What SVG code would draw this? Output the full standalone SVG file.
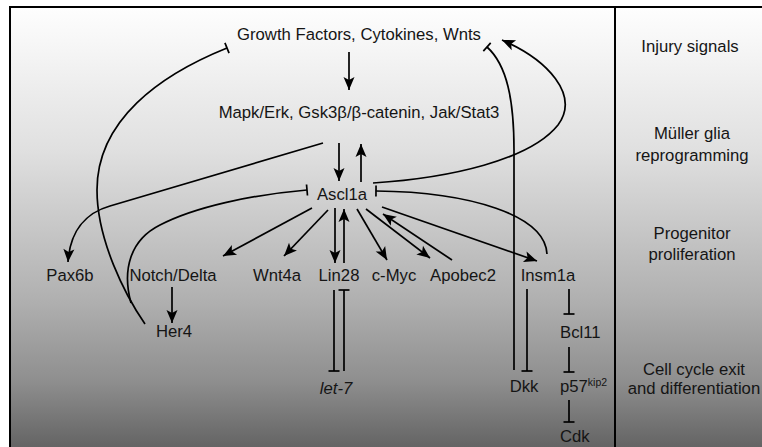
<svg xmlns="http://www.w3.org/2000/svg" width="762" height="447" viewBox="0 0 762 447">
<defs>
<linearGradient id="bg" gradientUnits="userSpaceOnUse" x1="0" y1="7" x2="0" y2="447">
<stop offset="0" stop-color="#fefefe"/>
<stop offset="0.325" stop-color="#e0e0e0"/>
<stop offset="0.666" stop-color="#b0b0b0"/>
<stop offset="0.848" stop-color="#8f8f8f"/>
<stop offset="1" stop-color="#646464"/>
</linearGradient>
<marker id="arr" markerUnits="userSpaceOnUse" markerWidth="16" markerHeight="14" viewBox="-14 -7 16 14" refX="0" refY="0" orient="auto">
<path d="M0,0 L-13,-5.5 L-10,0 L-13,5.5 Z" fill="#000"/>
</marker>
<marker id="inh" markerUnits="userSpaceOnUse" markerWidth="4" markerHeight="14" viewBox="-2 -7 4 14" refX="0" refY="0" orient="auto">
<path d="M0,-5.5 V5.5" stroke="#000" stroke-width="1.7"/>
</marker>
</defs>
<style>
.c{fill:none;stroke:#000;stroke-width:1.7}
.a{marker-end:url(#arr)}
.i{marker-end:url(#inh)}
.t{font-family:"Liberation Sans",Arial,sans-serif;font-size:16.7px;fill:#151515;text-anchor:middle}
.s{text-anchor:start}
.fr{fill:none;stroke:#000;stroke-width:2}
</style>
<rect x="0" y="0" width="762" height="447" fill="#fff"/>
<rect x="10" y="7" width="752" height="440" fill="url(#bg)"/>
<path class="fr" d="M10,447 V7 H762"/>
<path class="fr" d="M615,7 V447"/>

<g id="connectors">
<path class="c a" d="M349,52 L349,90"/>
<path class="c a" d="M339,143 L339,181"/>
<path class="c a" d="M361,182 L361,144"/>
<path class="c a" d="M323,143 L110,206 C85,213 70,232 68,262"/>
<path class="c a" d="M373,183 C450,178 530,160 558,125 C580,95 548,60 502,40"/>
<path class="c i" d="M145,324 C125,295 97,240 97,190 C97,120 160,75 227,48"/>
<path class="c i" d="M131,303 C122,270 130,240 160,225 C195,207 250,195 307,190"/>
<path class="c i" d="M514,370 L514,150 C514,100 507,65 487,47"/>
<path class="c i" d="M547,254 C545,215 470,192 376,191"/>
<path class="c a" d="M382,207 L537,261"/>
<path class="c a" d="M452,260 L383,214"/>
<path class="c a" d="M366,209 L430,258"/>
<path class="c a" d="M357,209 L387,260"/>
<path class="c a" d="M335,208 L335,263"/>
<path class="c a" d="M344,263 L344,209"/>
<path class="c a" d="M328,210 L284,256"/>
<path class="c a" d="M312,208 L223,256"/>
<path class="c a" d="M172,287 L172,323"/>
<path class="c i" d="M334,290 L334,371"/>
<path class="c i" d="M344,371 L344,290"/>
<path class="c i" d="M527,289 L527,371"/>
<path class="c i" d="M569,289 L569,314"/>
<path class="c i" d="M569,347 L569,372"/>
<path class="c i" d="M569,400 L569,422"/>
</g>

<g id="growth-factors"><text class="t" x="359" y="40">Growth Factors, Cytokines, Wnts</text></g>
<g id="mapk"><text class="t" x="359" y="118">Mapk/Erk, Gsk3β/β-catenin, Jak/Stat3</text></g>
<g id="ascl1a"><text class="t" x="342" y="200">Ascl1a</text></g>
<g id="pax6b"><text class="t" x="70" y="281">Pax6b</text></g>
<g id="notch-delta"><text class="t" x="173" y="281">Notch/Delta</text></g>
<g id="wnt4a"><text class="t" x="277" y="281">Wnt4a</text></g>
<g id="lin28"><text class="t" x="339" y="281">Lin28</text></g>
<g id="c-myc"><text class="t" x="394" y="281">c-Myc</text></g>
<g id="apobec2"><text class="t" x="463" y="281">Apobec2</text></g>
<g id="insm1a"><text class="t" x="548" y="281">Insm1a</text></g>
<g id="her4"><text class="t" x="174" y="337">Her4</text></g>
<g id="let-7"><text class="t" x="336" y="394" font-style="italic">let-7</text></g>
<g id="dkk"><text class="t" x="524" y="392">Dkk</text></g>
<g id="bcl11"><text class="t s" x="560" y="338">Bcl11</text></g>
<g id="p57"><text class="t s" x="560" y="392">p57<tspan font-size="10.5" dy="-6">kip2</tspan></text></g>
<g id="cdk"><text class="t s" x="560" y="442">Cdk</text></g>

<g id="stage-labels">
<text class="t" x="690" y="52">Injury signals</text>
<text class="t" x="692" y="139">Müller glia</text>
<text class="t" x="692" y="161">reprogramming</text>
<text class="t" x="692" y="239">Progenitor</text>
<text class="t" x="692" y="260">proliferation</text>
<text class="t" x="694" y="375">Cell cycle exit</text>
<text class="t" x="694" y="394">and differentiation</text>
</g>
</svg>
